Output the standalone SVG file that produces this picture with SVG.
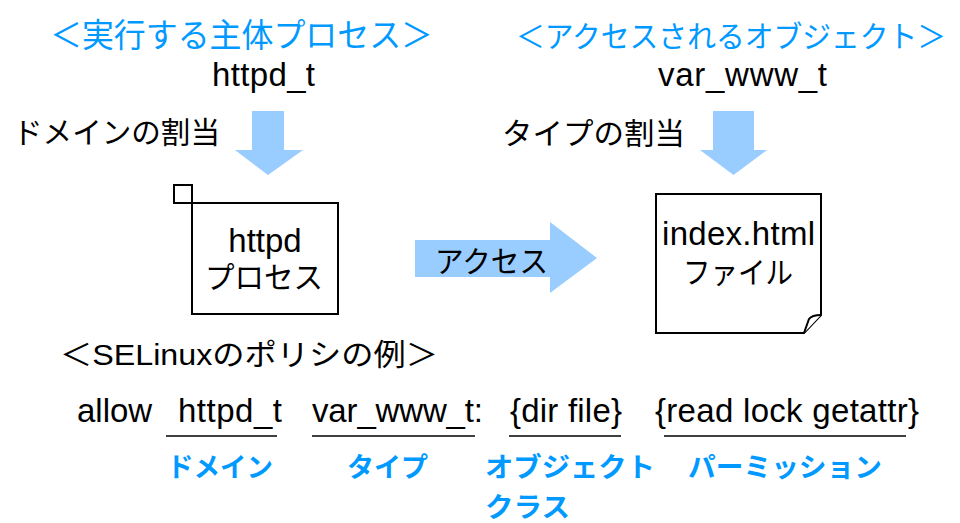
<svg xmlns="http://www.w3.org/2000/svg" width="960" height="523" viewBox="0 0 960 523">
<style>
text{font-family:"Liberation Sans","Noto Sans CJK JP",sans-serif;fill:#000}
.h{fill:#0099FF;font-size:33px}
.h2{fill:#0099FF;font-size:30px}
.lat{font-size:33px}
.jp{font-size:30px}
.lab{fill:#0099FF;font-size:27px;font-weight:bold}
.box{fill:#fff;stroke:#000;stroke-width:2}
.arr{fill:#99CCFF}
.ul{stroke:#000;stroke-width:1.5}
</style>
<rect width="960" height="523" fill="#fff"/>
<g id="heading-subject">
<text class="h" x="50" y="47" textLength="383" lengthAdjust="spacingAndGlyphs">＜実行する主体プロセス＞</text>
<text class="lat" x="212" y="86" textLength="103">httpd_t</text>
</g>
<g id="heading-object">
<text class="h2" x="516" y="47" textLength="430" lengthAdjust="spacingAndGlyphs">＜アクセスされるオブジェクト＞</text>
<text class="lat" x="658" y="86" textLength="169">var_www_t</text>
</g>
<g id="label-domain">
<text class="jp" x="13" y="143" textLength="207" lengthAdjust="spacingAndGlyphs">ドメインの割当</text>
</g>
<g id="label-type">
<text class="jp" x="502" y="144" textLength="183" lengthAdjust="spacingAndGlyphs">タイプの割当</text>
</g>
<g id="connectors">
<path class="arr" d="M252,111 H284 V150 H303 L268,175 L235,150 H252 Z"/>
<path class="arr" d="M713,111 H754 V150 H767 L733.5,175 L700,150 H713 Z"/>
<path class="arr" d="M415,240 H550 V222 L597,258 L550,293 V277 H415 Z"/>
<text class="jp" x="435" y="272" textLength="113" lengthAdjust="spacingAndGlyphs">アクセス</text>
</g>
<g id="process">
<rect class="box" x="192" y="203" width="146" height="111"/>
<rect class="box" x="174" y="185" width="18" height="18"/>
<text class="lat" x="265" y="252" text-anchor="middle">httpd</text>
<text class="jp" x="205" y="288" textLength="118" lengthAdjust="spacingAndGlyphs">プロセス</text>
</g>
<g id="file">
<path class="box" d="M656,194 H821 V315 L804,333 H656 Z"/>
<path class="box" d="M821,315 Q812,315 809,319 L804,333"/>
<text class="lat" x="738.5" y="245" text-anchor="middle" textLength="153">index.html</text>
<text class="jp" x="683" y="283" textLength="110" lengthAdjust="spacingAndGlyphs">ファイル</text>
</g>
<g id="policy">
<text class="jp" x="60" y="365" textLength="378" lengthAdjust="spacingAndGlyphs">＜SELinuxのポリシの例＞</text>
<text class="lat" x="77" y="422">allow</text>
<text class="lat" x="178" y="422" textLength="104">httpd_t</text>
<text class="lat" x="312" y="422" textLength="171">var_www_t:</text>
<text class="lat" x="510" y="422" textLength="112">{dir file}</text>
<text class="lat" x="655" y="422" textLength="264">{read lock getattr}</text>
<line class="ul" x1="166" y1="436" x2="277" y2="436"/>
<line class="ul" x1="312" y1="436" x2="475" y2="436"/>
<line class="ul" x1="509" y1="436" x2="621" y2="436"/>
<line class="ul" x1="664" y1="436" x2="906" y2="436"/>
<text class="lab" x="167" y="477" textLength="106" lengthAdjust="spacingAndGlyphs">ドメイン</text>
<text class="lab" x="347" y="477" textLength="81" lengthAdjust="spacingAndGlyphs">タイプ</text>
<text class="lab" x="485" y="477" textLength="170" lengthAdjust="spacingAndGlyphs">オブジェクト</text>
<text class="lab" x="485" y="517" textLength="85" lengthAdjust="spacingAndGlyphs">クラス</text>
<text class="lab" x="688" y="477" textLength="194" lengthAdjust="spacingAndGlyphs">パーミッション</text>
</g>
</svg>
